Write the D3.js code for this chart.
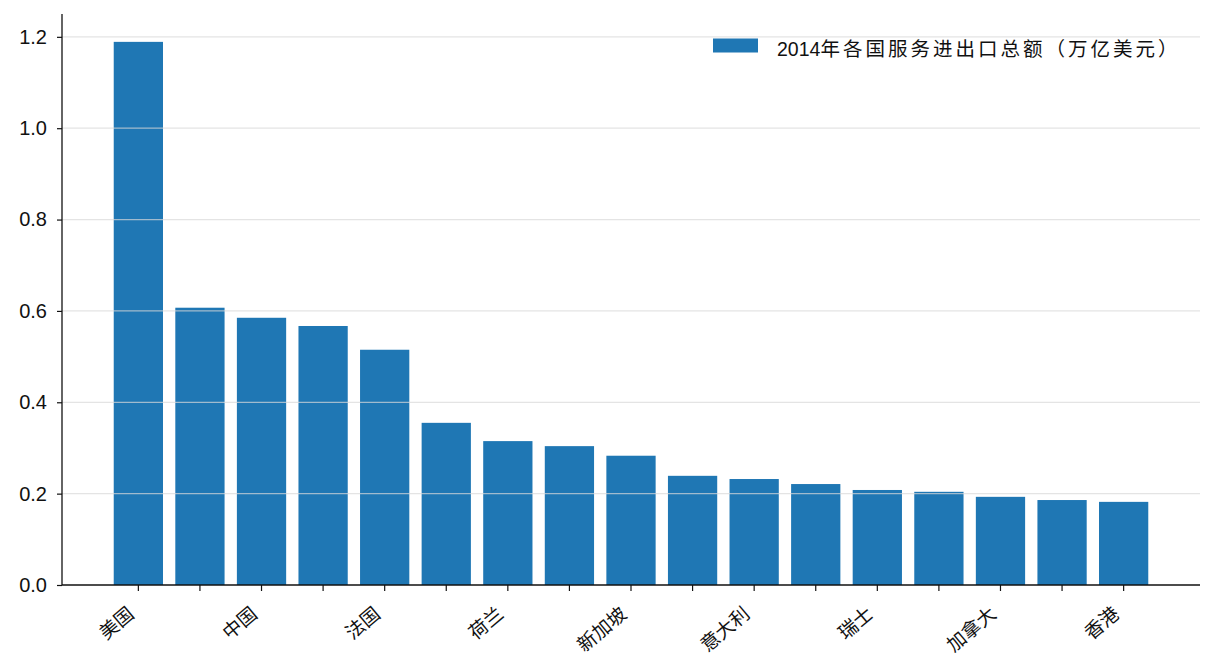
<!DOCTYPE html>
<html>
<head>
<meta charset="utf-8">
<script src="https://cdn.jsdelivr.net/npm/d3@7"></script>
<style>
  body { margin: 0; background: #fff; }
  text { font-family: "Liberation Sans", Arial, "Noto Sans CJK SC", sans-serif; fill: #111; }
</style>
</head>
<body>
<script>
// data
var countries = ['美国','德国','中国','英国','法国','日本','荷兰','印度','新加坡','爱尔兰','意大利','比利时','瑞士','韩国','加拿大','西班牙','香港'];
var totals = [1.189, 0.607, 0.585, 0.567, 0.515, 0.355, 0.315, 0.304, 0.283, 0.239, 0.232, 0.221, 0.208, 0.204, 0.193, 0.186, 0.182];
var yTicks = [0.0, 0.2, 0.4, 0.6, 0.8, 1.0, 1.2];
var seriesYear = '2014';
var seriesName = '年各国服务进出口总额（万亿美元）';

var width = 1216,
    height = 672,
    plotLeft = 62,
    plotRight = 1200,
    plotTop = 14,
    plotBottom = 585,
    barColor = '#1f77b4';

var svg = d3.select('body').append('svg')
    .attr('width', width)
    .attr('height', height);

var x = d3.scaleBand()
    .domain(countries)
    .range([plotLeft, plotRight])
    .paddingInner(0.2)
    .paddingOuter(0.84);

var y = d3.scaleLinear()
    .domain([0, 1.25])
    .range([plotBottom, plotTop]);

// bars
svg.selectAll('rect.bar')
    .data(totals)
    .enter()
    .append('rect')
    .attr('class', 'bar')
    .attr('x', function(d, i) { return x(countries[i]); })
    .attr('width', x.bandwidth())
    .attr('y', function(d) { return y(d); })
    .attr('height', function(d) { return y(0) - y(d); })
    .attr('fill', barColor);

// grid drawn on top of the bars, lightly
svg.append('g')
    .selectAll('line')
    .data(yTicks.slice(1))
    .enter()
    .append('line')
    .attr('x1', plotLeft)
    .attr('x2', plotRight)
    .attr('y1', function(d) { return y(d); })
    .attr('y2', function(d) { return y(d); })
    .attr('stroke', '#d9d9d9')
    .attr('stroke-opacity', 0.7)
    .attr('stroke-width', 1.2);

// y axis
var yAxis = svg.append('g')
    .attr('transform', 'translate(' + plotLeft + ',0)')
    .call(d3.axisLeft(y).tickValues(yTicks).tickFormat(d3.format('.1f')).tickSize(5).tickPadding(10));
yAxis.select('.domain').attr('d', 'M0,' + plotTop + 'V' + plotBottom).attr('stroke', '#111').attr('stroke-width', 1.3);
yAxis.selectAll('.tick line').attr('stroke', '#111').attr('stroke-width', 1.2);
yAxis.selectAll('.tick text').style('font-size', '20px');

// x axis: tick on every bar, label on every other one
var xAxis = svg.append('g')
    .attr('transform', 'translate(0,' + plotBottom + ')')
    .call(d3.axisBottom(x).tickSize(6).tickFormat(function(d, i) { return i % 2 == 0 ? d : ''; }));
xAxis.select('.domain').attr('d', 'M' + plotLeft + ',0H' + plotRight).attr('stroke', '#111').attr('stroke-width', 1.3);
xAxis.selectAll('.tick line').attr('stroke', '#111').attr('stroke-width', 1.2);
xAxis.selectAll('.tick text')
    .style('font-family', '"Noto Sans CJK SC", sans-serif')
    .style('font-size', '19px')
    .attr('text-anchor', 'end')
    .attr('dy', '0')
    .attr('y', 0)
    .attr('transform', 'translate(-3,31) rotate(-40)');

// legend
var legend = svg.append('g');
legend.append('rect')
    .attr('x', 713)
    .attr('y', 38.5)
    .attr('width', 45)
    .attr('height', 14)
    .attr('fill', barColor);
var legendText = legend.append('text')
    .attr('x', 777)
    .attr('y', 55.5)
    .style('font-size', '19.5px');
legendText.append('tspan').text(seriesYear);
legendText.append('tspan')
    .style('letter-spacing', '3px')
    .text(seriesName);
</script>
</body>
</html>
